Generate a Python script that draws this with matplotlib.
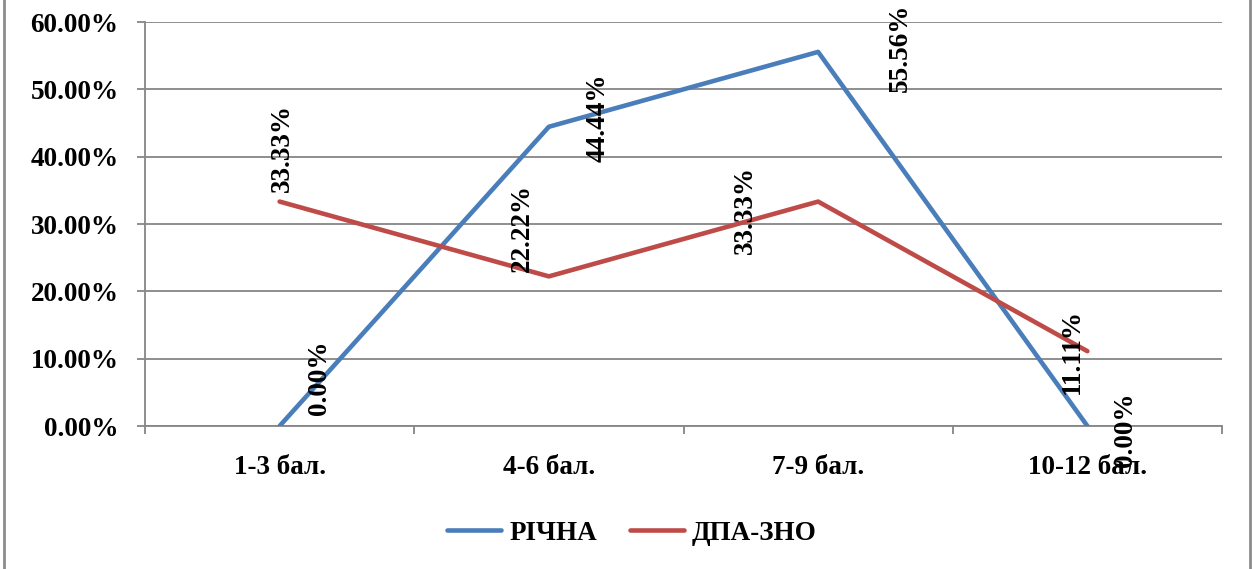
import matplotlib
matplotlib.use("Agg")
import matplotlib.pyplot as plt
from matplotlib.lines import Line2D
from matplotlib.ticker import FixedLocator, FuncFormatter

categories = ["1-3 бал.", "4-6 бал.", "7-9 бал.", "10-12 бал."]
richna = [0.0, 44.44, 55.56, 0.0]
dpa_zno = [33.33, 22.22, 33.33, 11.11]
series_names = ["РІЧНА", "ДПА-ЗНО"]

# label offsets in pixels (dx, dy) for the rotated data labels
richna_offsets = [(40, 48), (49, 9), (82, 4), (38, -4)]
dpa_offsets = [(3, 54), (-26, 48), (-73, -8), (-15, 0)]

FS = 19.5
plt.rcParams['font.family'] = ['Liberation Serif', 'DejaVu Serif']
plt.rcParams['font.weight'] = 'bold'

fig = plt.figure(figsize=(12.55, 5.69), dpi=100)
ax = fig.add_axes([145/1255, 1-426/569, (1222-145)/1255, (426-22)/569])

blue = '#4A7EBB'
red = '#BE4B48'
grid = '#868686'

x = list(range(len(categories)))
ax.plot(x, richna, color=blue, lw=3.3, solid_capstyle='round', label=series_names[0], zorder=3)
ax.plot(x, dpa_zno, color=red, lw=3.3, solid_capstyle='round', label=series_names[1], zorder=3)

for xi, v, off in zip(x, richna, richna_offsets):
    ax.annotate(f"{v:.2f}%", (xi, v), xytext=off, textcoords='offset pixels',
                rotation=90, ha='center', va='center', fontsize=FS, fontweight='bold', zorder=4)
for xi, v, off in zip(x, dpa_zno, dpa_offsets):
    ax.annotate(f"{v:.2f}%", (xi, v), xytext=off, textcoords='offset pixels',
                rotation=90, ha='center', va='center', fontsize=FS, fontweight='bold', zorder=4)

ax.set_xlim(-0.5, len(categories) - 0.5)
ax.set_ylim(0, 60)
ax.set_yticks([0, 10, 20, 30, 40, 50, 60])
ax.yaxis.set_major_formatter(FuncFormatter(lambda v, p: f"{v:.2f}%"))
ax.yaxis.grid(True, color=grid, lw=1.3)
ax.set_axisbelow(True)

ax.set_xticks(x)
ax.set_xticklabels(categories)
ax.xaxis.set_minor_locator(FixedLocator([i - 0.5 for i in range(len(categories) + 1)]))
ax.tick_params(axis='x', which='major', length=0, pad=21, labelsize=FS)
ax.tick_params(axis='x', which='minor', length=6, width=1.3, color=grid, direction='out')
ax.tick_params(axis='y', length=6, width=1.3, color=grid, pad=13, labelsize=FS)
for lab in ax.get_xticklabels() + ax.get_yticklabels():
    lab.set_fontweight('bold')

for s in ['top', 'right']:
    ax.spines[s].set_visible(False)
for s in ['left', 'bottom']:
    ax.spines[s].set_color(grid)
    ax.spines[s].set_linewidth(1.3)

leg = fig.legend(loc='center', bbox_to_anchor=(632/1255, 1-533/569), ncol=2, frameon=False,
                 handlelength=2.0, handletextpad=0.3, columnspacing=1.2,
                 prop={'weight': 'bold', 'size': FS})

# outer frame (left and right edges visible)
fig.add_artist(Line2D([4/1255, 4/1255], [0, 1], transform=fig.transFigure, color='#8c8c8c', lw=2))
fig.add_artist(Line2D([1250/1255, 1250/1255], [0, 1], transform=fig.transFigure, color='#8c8c8c', lw=2))

fig.savefig("out.png", dpi=100)
